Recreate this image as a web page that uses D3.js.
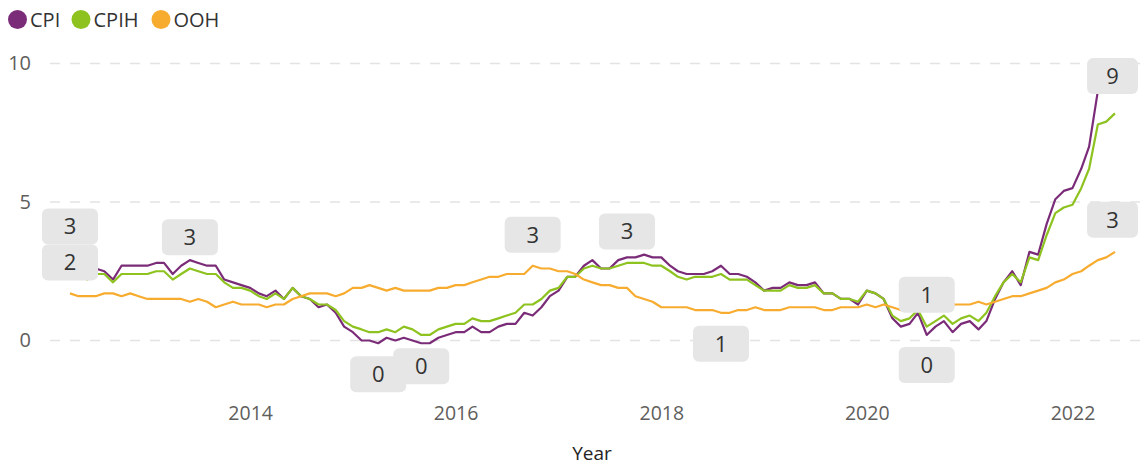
<!DOCTYPE html>
<html>
<head>
<meta charset="utf-8">
<script src="https://cdn.jsdelivr.net/npm/d3@7"></script>
<style>
  html, body { margin: 0; padding: 0; background: #ffffff; }
  svg { display: block; font-family: "Segoe UI", "Open Sans", sans-serif; }
</style>
</head>
<body>
<svg id="chart" width="1145" height="465"></svg>
<script>
// Monthly 12-month inflation rates (%), April 2012 to June 2022
const firstMonth = "2012-04";

const cpi = [
  3.0, 2.8, 2.4, 2.6, 2.5, 2.2, 2.7, 2.7, 2.7,
  2.7, 2.8, 2.8, 2.4, 2.7, 2.9, 2.8, 2.7, 2.7, 2.2, 2.1, 2.0,
  1.9, 1.7, 1.6, 1.8, 1.5, 1.9, 1.6, 1.5, 1.2, 1.3, 1.0, 0.5,
  0.3, 0.0, 0.0, -0.1, 0.1, 0.0, 0.1, 0.0, -0.1, -0.1, 0.1, 0.2,
  0.3, 0.3, 0.5, 0.3, 0.3, 0.5, 0.6, 0.6, 1.0, 0.9, 1.2, 1.6,
  1.8, 2.3, 2.3, 2.7, 2.9, 2.6, 2.6, 2.9, 3.0, 3.0, 3.1, 3.0,
  3.0, 2.7, 2.5, 2.4, 2.4, 2.4, 2.5, 2.7, 2.4, 2.4, 2.3, 2.1,
  1.8, 1.9, 1.9, 2.1, 2.0, 2.0, 2.1, 1.7, 1.7, 1.5, 1.5, 1.3,
  1.8, 1.7, 1.5, 0.8, 0.5, 0.6, 1.0, 0.2, 0.5, 0.7, 0.3, 0.6,
  0.7, 0.4, 0.7, 1.5, 2.1, 2.5, 2.0, 3.2, 3.1, 4.2, 5.1, 5.4,
  5.5, 6.2, 7.0, 9.0, 9.1, 9.4
];

const cpih = [
  2.6, 2.5, 2.2, 2.4, 2.4, 2.1, 2.4, 2.4, 2.4,
  2.4, 2.5, 2.5, 2.2, 2.4, 2.6, 2.5, 2.4, 2.4, 2.1, 1.9, 1.9,
  1.8, 1.6, 1.5, 1.7, 1.5, 1.9, 1.6, 1.5, 1.3, 1.3, 1.1, 0.7,
  0.5, 0.4, 0.3, 0.3, 0.4, 0.3, 0.5, 0.4, 0.2, 0.2, 0.4, 0.5,
  0.6, 0.6, 0.8, 0.7, 0.7, 0.8, 0.9, 1.0, 1.3, 1.3, 1.5, 1.8,
  1.9, 2.3, 2.3, 2.6, 2.7, 2.6, 2.6, 2.7, 2.8, 2.8, 2.8, 2.7,
  2.7, 2.5, 2.3, 2.2, 2.3, 2.3, 2.3, 2.4, 2.2, 2.2, 2.2, 2.0,
  1.8, 1.8, 1.8, 2.0, 1.9, 1.9, 2.0, 1.7, 1.7, 1.5, 1.5, 1.4,
  1.8, 1.7, 1.5, 0.9, 0.7, 0.8, 1.1, 0.5, 0.7, 0.9, 0.6, 0.8,
  0.9, 0.7, 1.0, 1.6, 2.1, 2.4, 2.1, 3.0, 2.9, 3.8, 4.6, 4.8,
  4.9, 5.5, 6.2, 7.8, 7.9, 8.2
];

const ooh = [
  1.7, 1.6, 1.6, 1.6, 1.7, 1.7, 1.6, 1.7, 1.6,
  1.5, 1.5, 1.5, 1.5, 1.5, 1.4, 1.5, 1.4, 1.2, 1.3, 1.4, 1.3,
  1.3, 1.3, 1.2, 1.3, 1.3, 1.5, 1.6, 1.7, 1.7, 1.7, 1.6, 1.7,
  1.9, 1.9, 2.0, 1.9, 1.8, 1.9, 1.8, 1.8, 1.8, 1.8, 1.9, 1.9,
  2.0, 2.0, 2.1, 2.2, 2.3, 2.3, 2.4, 2.4, 2.4, 2.7, 2.6, 2.6,
  2.5, 2.5, 2.4, 2.2, 2.1, 2.0, 2.0, 1.9, 1.9, 1.6, 1.5, 1.4,
  1.2, 1.2, 1.2, 1.2, 1.1, 1.1, 1.1, 1.0, 1.0, 1.1, 1.1, 1.2,
  1.1, 1.1, 1.1, 1.2, 1.2, 1.2, 1.2, 1.1, 1.1, 1.2, 1.2, 1.2,
  1.3, 1.2, 1.3, 1.2, 1.1, 1.1, 1.1, 1.1, 1.2, 1.2, 1.3, 1.3,
  1.3, 1.4, 1.3, 1.4, 1.5, 1.6, 1.6, 1.7, 1.8, 1.9, 2.1, 2.2,
  2.4, 2.5, 2.7, 2.9, 3.0, 3.2
];

const seriesNames = ["CPI", "CPIH", "OOH"];
const seriesColors = ["#7B2C78", "#8DC21F", "#F7AC30"];
const yTickValues = [0, 5, 10];
const xTickYears = [2014, 2016, 2018, 2020, 2022];
const xAxisTitle = "Year";

// Points that carry a value label, with the label box offset from the point
const labelledPoints = [
  { series: "CPI",  month: "2012-04", dy: -31 },
  { series: "OOH",  month: "2012-04", dy: -31 },
  { series: "CPI",  month: "2013-06", dy: -23 },
  { series: "CPI",  month: "2015-04", dy: 31 },
  { series: "CPI",  month: "2015-09", dy: 23 },
  { series: "OOH",  month: "2016-10", dy: -31 },
  { series: "CPI",  month: "2017-09", dy: -26 },
  { series: "OOH",  month: "2018-08", dy: 31 },
  { series: "CPIH", month: "2020-08", dy: -32 },
  { series: "CPI",  month: "2020-08", dy: 30 },
  { series: "CPI",  month: "2022-06", dy: -4 },
  { series: "OOH",  month: "2022-06", dy: -32 }
];

const parseMonth = d3.timeParse("%Y-%m");
const start = parseMonth(firstMonth);
const valuesBySeries = { CPI: cpi, CPIH: cpih, OOH: ooh };

const series = seriesNames.map((name, k) => ({
  name,
  color: seriesColors[k],
  points: valuesBySeries[name].map((v, i) => ({ date: d3.timeMonth.offset(start, i), value: v }))
}));

const svg = d3.select("#chart");

const x = d3.scaleTime()
  .domain([start, d3.timeMonth.offset(start, cpi.length - 1)])
  .range([70, 1115]);

const y = d3.scaleLinear()
  .domain([0, 10])
  .range([340.5, 63.5]);

// Horizontal dashed gridlines
svg.append("g")
  .selectAll("line")
  .data(yTickValues)
  .join("line")
  .attr("x1", 50)
  .attr("x2", 1140)
  .attr("y1", d => y(d))
  .attr("y2", d => y(d))
  .attr("stroke", "#e3e3e3")
  .attr("stroke-width", 1.5)
  .attr("stroke-dasharray", "10,10");

// Y axis labels
const yAxis = svg.append("g")
  .attr("transform", "translate(31,0)")
  .call(d3.axisLeft(y).tickValues(yTickValues).tickSize(0).tickPadding(0));
yAxis.select(".domain").remove();
yAxis.selectAll("text")
  .attr("fill", "#605E5C")
  .style("font-size", "20px")
  .style("font-family", "'Segoe UI', 'Open Sans', sans-serif");

// X axis labels
const xAxis = svg.append("g")
  .attr("transform", "translate(0,406)")
  .call(d3.axisBottom(x)
    .tickValues(xTickYears.map(yr => new Date(yr, 0, 1)))
    .tickFormat(d3.timeFormat("%Y"))
    .tickSize(0)
    .tickPadding(0));
xAxis.select(".domain").remove();
xAxis.selectAll("text")
  .attr("fill", "#605E5C")
  .style("font-size", "19.5px")
  .style("font-family", "'Segoe UI', 'Open Sans', sans-serif");

svg.append("text")
  .attr("x", 592)
  .attr("y", 460)
  .attr("text-anchor", "middle")
  .attr("fill", "#252423")
  .style("font-size", "19px")
  .text(xAxisTitle);

// Series lines
const line = d3.line()
  .x(d => x(d.date))
  .y(d => y(d.value));

svg.append("g")
  .selectAll("path")
  .data(series)
  .join("path")
  .attr("d", d => line(d.points))
  .attr("fill", "none")
  .attr("stroke", d => d.color)
  .attr("stroke-width", 2.2)
  .attr("stroke-linejoin", "round");

// Value labels
const boxW = 56, boxH = 36, rightLimit = 1138;
const labels = svg.append("g");
labelledPoints.forEach(lp => {
  const s = series.find(d => d.name === lp.series);
  const date = parseMonth(lp.month);
  const p = s.points.find(pt => +pt.date === +date);
  const cx = x(p.date);
  const cy = y(p.value) + lp.dy;
  const left = cx - boxW / 2;
  const right = Math.min(cx + boxW / 2, rightLimit);
  labels.append("rect")
    .attr("x", left)
    .attr("y", cy - boxH / 2)
    .attr("width", right - left)
    .attr("height", boxH)
    .attr("rx", 6)
    .attr("fill", "#e6e6e6");
  labels.append("text")
    .attr("x", (left + right) / 2)
    .attr("y", cy)
    .attr("dy", "0.36em")
    .attr("text-anchor", "middle")
    .attr("fill", "#333333")
    .style("font-size", "22px")
    .text(String(Math.round(p.value)).replace("-0", "0"));
});

// Legend
const legendX = [17.5, 81, 161];
const legend = svg.append("g");
series.forEach((s, k) => {
  legend.append("circle")
    .attr("cx", legendX[k])
    .attr("cy", 19.5)
    .attr("r", 9.5)
    .attr("fill", s.color);
  legend.append("text")
    .attr("x", legendX[k] + 12.5)
    .attr("y", 19.5)
    .attr("dy", "0.35em")
    .attr("fill", "#333333")
    .style("font-size", "20px")
    .text(s.name);
});
</script>
</body>
</html>
